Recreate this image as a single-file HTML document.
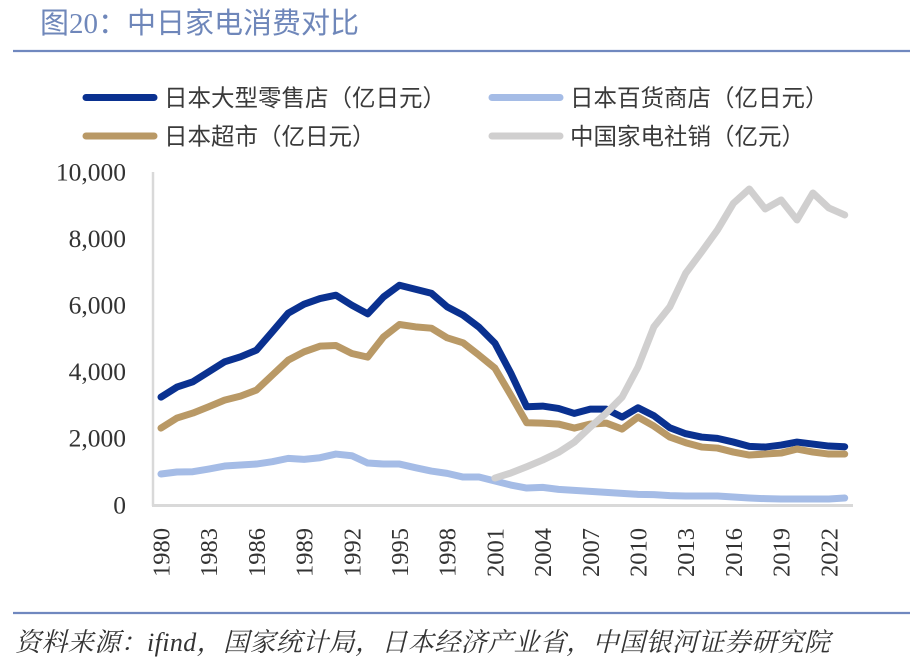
<!DOCTYPE html>
<html>
<head>
<meta charset="utf-8">
<style>
  html, body { margin: 0; padding: 0; background: #ffffff; }
  body { width: 923px; height: 667px; overflow: hidden; position: relative; }
  svg { position: absolute; left: 0; top: 0; }
</style>
</head>
<body>
<svg width="923" height="667" viewBox="0 0 923 667" xmlns="http://www.w3.org/2000/svg">
  <!-- Title -->
  <text x="40" y="33" font-family="'Liberation Serif', 'Noto Sans CJK SC', sans-serif" font-size="29" fill="#6f87ba">图20：中日家电消费对比</text>
  <line x1="13" y1="51" x2="910" y2="51" stroke="#7088bf" stroke-width="2.2"/>

  <!-- Legend -->
  <g stroke-linecap="round" stroke-width="7">
    <line x1="86" y1="97.5" x2="154" y2="97.5" stroke="#0a3190"/>
    <line x1="86" y1="136" x2="154" y2="136" stroke="#b99966"/>
    <line x1="492" y1="97.5" x2="560" y2="97.5" stroke="#a5bce6"/>
    <line x1="492" y1="136" x2="560" y2="136" stroke="#d0cfcf"/>
  </g>
  <g font-family="'Liberation Sans', 'Noto Sans CJK SC', sans-serif" font-size="23.5" fill="#3a3a3a">
    <text x="164" y="106">日本大型零售店（亿日元）</text>
    <text x="164" y="144.5">日本超市（亿日元）</text>
    <text x="570" y="106">日本百货商店（亿日元）</text>
    <text x="570" y="144.5">中国家电社销（亿元）</text>
  </g>

  <!-- Y axis labels -->
  <g font-family="'Liberation Serif', serif" font-size="25.5" fill="#333333" text-anchor="end">
    <text x="126" y="180.5">10,000</text>
    <text x="126" y="247">8,000</text>
    <text x="126" y="313.5">6,000</text>
    <text x="126" y="380">4,000</text>
    <text x="126" y="446.5">2,000</text>
    <text x="126" y="513.5">0</text>
  </g>

  <!-- Axes -->
  <line x1="153" y1="172" x2="153" y2="506" stroke="#d9d9d9" stroke-width="2.5"/>
  <line x1="152" y1="505.5" x2="853" y2="505.5" stroke="#d9d9d9" stroke-width="3"/>

  <!-- X axis labels -->
  <g font-family="'Liberation Serif', serif" font-size="24.5" fill="#333333" text-anchor="end">
    <text transform="translate(169.5,528) rotate(-90)">1980</text>
    <text transform="translate(217.2,528) rotate(-90)">1983</text>
    <text transform="translate(264.9,528) rotate(-90)">1986</text>
    <text transform="translate(312.6,528) rotate(-90)">1989</text>
    <text transform="translate(360.3,528) rotate(-90)">1992</text>
    <text transform="translate(408,528) rotate(-90)">1995</text>
    <text transform="translate(455.7,528) rotate(-90)">1998</text>
    <text transform="translate(503.4,528) rotate(-90)">2001</text>
    <text transform="translate(551.1,528) rotate(-90)">2004</text>
    <text transform="translate(598.8,528) rotate(-90)">2007</text>
    <text transform="translate(646.5,528) rotate(-90)">2010</text>
    <text transform="translate(694.2,528) rotate(-90)">2013</text>
    <text transform="translate(741.9,528) rotate(-90)">2016</text>
    <text transform="translate(789.6,528) rotate(-90)">2019</text>
    <text transform="translate(837.3,528) rotate(-90)">2022</text>
  </g>

  <!-- Series -->
  <g transform="translate(161,505) scale(15.9,-0.0333)" fill="none" stroke-linecap="round" stroke-linejoin="round">
    <polyline vector-effect="non-scaling-stroke" stroke="#0a3190" stroke-width="7"
      points="0,3240 1,3540 2,3700 3,4000 4,4300 5,4450 6,4650 7,5200 8,5760 9,6030 10,6200 11,6300 12,6000 13,5740 14,6250 15,6600 16,6480 17,6360 18,5950 19,5700 20,5340 21,4860 22,3960 23,2950 24,2970 25,2900 26,2750 27,2880 28,2880 29,2640 30,2920 31,2680 32,2320 33,2140 34,2040 35,2000 36,1890 37,1760 38,1740 39,1800 40,1890 41,1830 42,1770 43,1750"/>
    <polyline vector-effect="non-scaling-stroke" stroke="#a5bce6" stroke-width="7"
      points="0,930 1,990 2,1000 3,1080 4,1170 5,1200 6,1230 7,1300 8,1400 9,1370 10,1420 11,1530 12,1480 13,1260 14,1230 15,1230 16,1120 17,1020 18,950 19,840 20,840 21,720 22,600 23,510 24,530 25,470 26,440 27,410 28,380 29,350 30,320 31,310 32,280 33,270 34,270 35,270 36,240 37,210 38,190 39,180 40,180 41,180 42,180 43,210"/>
    <polyline vector-effect="non-scaling-stroke" stroke="#b99966" stroke-width="7"
      points="0,2310 1,2610 2,2760 3,2950 4,3150 5,3270 6,3450 7,3900 8,4350 9,4600 10,4770 11,4790 12,4550 13,4440 14,5050 15,5420 16,5350 17,5310 18,5020 19,4870 20,4500 21,4110 22,3300 23,2470 24,2460 25,2430 26,2310 27,2430 28,2460 29,2280 30,2640 31,2370 32,2040 33,1870 34,1740 35,1710 36,1590 37,1500 38,1530 39,1560 40,1680 41,1590 42,1530 43,1530"/>
    <polyline vector-effect="non-scaling-stroke" stroke="#d0cfcf" stroke-width="7"
      points="21,810 22,960 23,1150 24,1350 25,1580 26,1890 27,2340 28,2760 29,3240 30,4140 31,5350 32,5950 33,6960 34,7600 35,8260 36,9060 37,9490 38,8890 39,9160 40,8560 41,9370 42,8920 43,8710"/>
  </g>

  <!-- Footer -->
  <line x1="13" y1="613" x2="910" y2="613" stroke="#7088bf" stroke-width="2.2"/>
  <text x="15" y="651" font-family="'Liberation Serif', 'Noto Serif CJK SC', serif" font-size="26" font-style="italic" letter-spacing="0.4" fill="#333333">资料来源：ifind，国家统计局，日本经济产业省，中国银河证券研究院</text>
</svg>
</body>
</html>
